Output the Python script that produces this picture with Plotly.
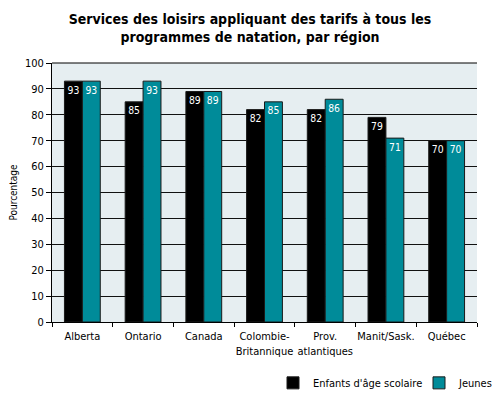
import plotly.graph_objects as go

categories = ["Alberta", "Ontario", "Canada", "Colombie-<br>Britannique", "Prov.<br>atlantiques", "Manit/Sask.", "Québec"]
enfants = [93, 85, 89, 82, 82, 79, 70]
jeunes = [93, 93, 89, 85, 86, 71, 70]
y_ticks = [0, 10, 20, 30, 40, 50, 60, 70, 80, 90, 100]

FONT = "DejaVu Sans Condensed, Liberation Sans Narrow, sans-serif"

fig = go.Figure()
fig.add_trace(go.Bar(
    x=categories, y=enfants, name="Enfants d'âge scolaire",
    marker=dict(color="#000000", line=dict(color="#1a1a1a", width=1)),
    text=[str(v) for v in enfants], textposition="inside", insidetextanchor="end",
    textfont=dict(color="white", size=12, family=FONT), textangle=0,
))
fig.add_trace(go.Bar(
    x=categories, y=jeunes, name="Jeunes",
    marker=dict(color="#008b99", line=dict(color="#1a1a1a", width=1)),
    text=[str(v) for v in jeunes], textposition="inside", insidetextanchor="end",
    textfont=dict(color="white", size=12, family=FONT), textangle=0,
))

fig.update_layout(
    width=500, height=397,
    paper_bgcolor="white", plot_bgcolor="#e6eef1",
    barmode="group", bargap=0.41, bargroupgap=0,
    margin=dict(l=52, r=23, t=63, b=75, autoexpand=False),
    font=dict(family=FONT, color="black", size=11),
    title=dict(text="<b>Services des loisirs appliquant des tarifs à tous les<br>programmes de natation, par région</b>",
               x=0.5, xanchor="center", y=0.94, yanchor="middle", yref="container",
               font=dict(family=FONT, size=14, color="black")),
    showlegend=True,
    legend=dict(orientation="h", x=0.52, xanchor="left", y=-0.235, yanchor="middle",
                font=dict(family=FONT, size=11), traceorder="normal",
                entrywidth=101, entrywidthmode="pixels",
                bgcolor="rgba(0,0,0,0)"),
    uniformtext=dict(minsize=8, mode="show"),
)
fig.update_yaxes(range=[0, 100], tickvals=y_ticks, showgrid=True, gridcolor="#111111", gridwidth=1,
                 ticks="outside", ticklen=5, tickcolor="black", showline=True, linecolor="black",
                 mirror=False, zeroline=False, tickfont=dict(size=11, family=FONT), automargin=False,
                 title=dict(text="Pourcentage", font=dict(size=10, family=FONT), standoff=5))
fig.update_xaxes(showline=True, linecolor="black", ticks="outside", ticklen=4, tickcolor="black",
                 tickson="boundaries", tickangle=0, automargin=False, ticklabelstandoff=4,
                 tickfont=dict(size=11, family=FONT))
fig.add_shape(type="line", xref="paper", yref="paper", x0=0, x1=1, y0=1, y1=1,
              line=dict(color="black", width=1))

fig.write_html("out.html", config={"displayModeBar": False},
               post_script="document.body.style.margin='0';")
